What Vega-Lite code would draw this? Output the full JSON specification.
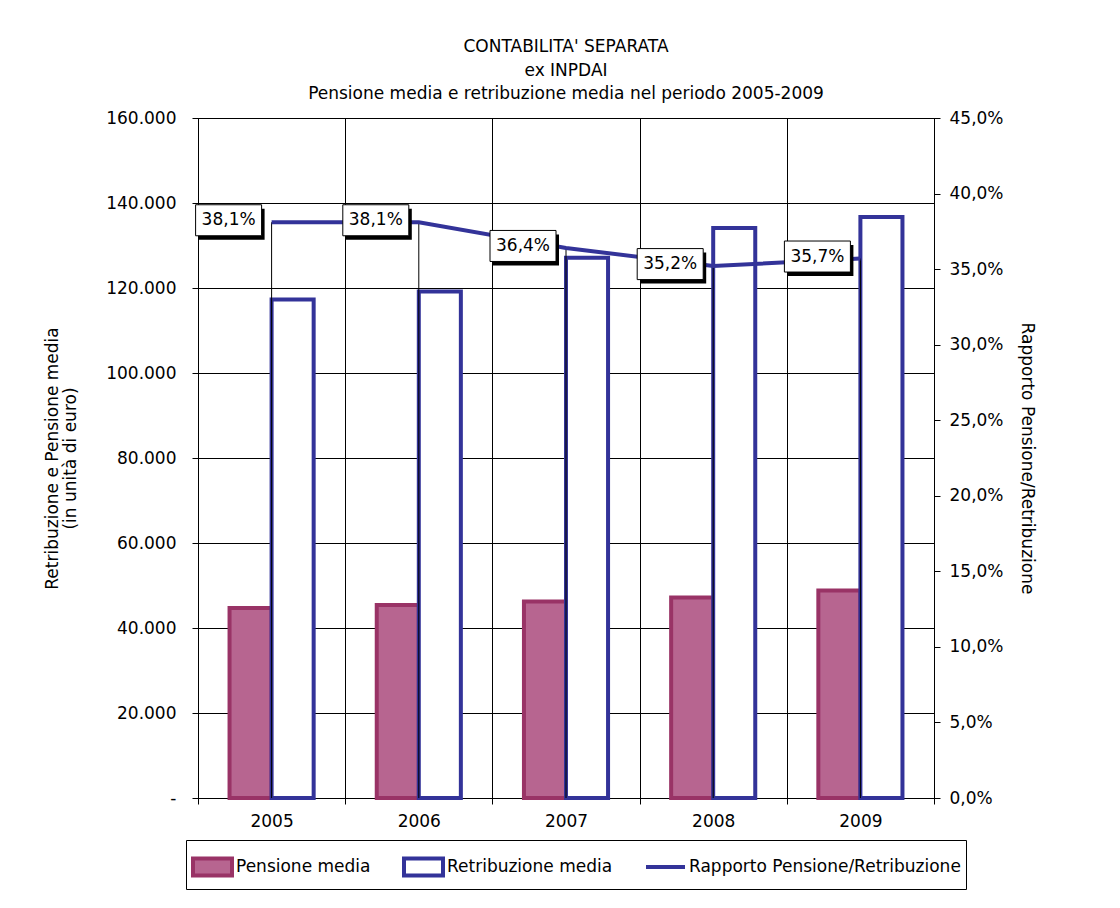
{
  "$schema": "https://vega.github.io/schema/vega-lite/v6.json",
  "width": 736,
  "height": 680,
  "autosize": {"type": "none"},
  "padding": {"left": 198, "top": 118, "right": 186, "bottom": 110},
  "background": "white",
  "config": {
    "font": "DejaVu Sans",
    "locale": {"number": {"decimal": ",", "thousands": ".", "grouping": [3], "currency": ["€", ""]}},
    "view": {"stroke": "black", "strokeWidth": 1},
    "axis": {
      "labelFontSize": 17, "labelColor": "black", "labelFont": "DejaVu Sans",
      "titleFontSize": 17, "titleFontWeight": "normal", "titleColor": "black", "titleFont": "DejaVu Sans",
      "domainColor": "black", "tickColor": "black", "gridColor": "black", "gridOpacity": 1, "tickSize": 6
    },
    "legend": {
      "labelFont": "DejaVu Sans", "labelFontSize": 17, "labelColor": "black",
      "orient": "none", "legendX": -12, "legendY": 722, "direction": "horizontal",
      "strokeColor": "black", "padding": 5, "columnPadding": 25, "labelOffset": 2, "labelLimit": 400,
      "symbolSize": 1521, "symbolStrokeWidth": 4, "symbolOpacity": 1
    }
  },
  "title": {
    "text": ["CONTABILITA' SEPARATA", "ex INPDAI", "Pensione media e retribuzione media nel periodo 2005-2009"],
    "anchor": "middle", "frame": "group", "fontSize": 17, "fontWeight": "normal", "font": "DejaVu Sans",
    "color": "black", "lineHeight": 23.5, "offset": 6
  },
  "data": {
    "values": [
      {"year": "2005", "Pensione media": 44700, "Retribuzione media": 117300, "rapporto": 0.381},
      {"year": "2006", "Pensione media": 45400, "Retribuzione media": 119200, "rapporto": 0.381},
      {"year": "2007", "Pensione media": 46250, "Retribuzione media": 127100, "rapporto": 0.364},
      {"year": "2008", "Pensione media": 47200, "Retribuzione media": 134100, "rapporto": 0.352},
      {"year": "2009", "Pensione media": 48800, "Retribuzione media": 136700, "rapporto": 0.357}
    ]
  },
  "encoding": {
    "x": {
      "field": "year", "type": "nominal",
      "scale": {"paddingInner": 0, "paddingOuter": 0},
      "axis": {"title": null, "labelAngle": 0, "tickBand": "extent", "grid": true, "labelPadding": 9, "domainColor": "black"}
    }
  },
  "layer": [
    {
      "transform": [{"fold": ["Pensione media", "Retribuzione media"], "as": ["series", "value"]}],
      "mark": {"type": "bar", "strokeWidth": 4, "opacity": 1},
      "encoding": {
        "xOffset": {"field": "series", "type": "nominal", "scale": {"domain": ["Pensione media", "Retribuzione media"], "paddingInner": 0, "paddingOuter": 0.75}},
        "y": {
          "field": "value", "type": "quantitative",
          "scale": {"domain": [0, 160000], "nice": false},
          "axis": {
            "title": ["Retribuzione e Pensione media", "(in unità di euro)"],
            "titleLineHeight": 18, "titlePadding": 26,
            "values": [0, 20000, 40000, 60000, 80000, 100000, 120000, 140000, 160000],
            "format": ",.0f",
            "labelExpr": "datum.value === 0 ? '-' : datum.label",
            "grid": true, "labelPadding": 16
          }
        },
        "fill": {
          "field": "series", "type": "nominal",
          "scale": {"domain": ["Pensione media", "Retribuzione media", "Rapporto Pensione/Retribuzione"], "range": ["#b76590", "#ffffff", "transparent"]},
          "legend": {"title": null}
        },
        "stroke": {
          "field": "series", "type": "nominal",
          "scale": {"domain": ["Pensione media", "Retribuzione media", "Rapporto Pensione/Retribuzione"], "range": ["#993366", "#333399", "#333399"]},
          "legend": {"title": null}
        }
      }
    },
    {
      "encoding": {
        "y": {
          "field": "rapporto", "type": "quantitative", "scale": {"domain": [0, 0.45], "nice": false},
          "axis": {
            "orient": "right", "title": "Rapporto Pensione/Retribuzione", "titlePadding": 14,
            "values": [0, 0.05, 0.1, 0.15, 0.2, 0.25, 0.3, 0.35, 0.4, 0.45],
            "format": ".1%", "grid": false, "labelPadding": 9
          }
        }
      },
      "layer": [
        {
          "mark": {"type": "point", "opacity": 0, "size": 0},
          "encoding": {
            "shape": {
              "datum": "Rapporto Pensione/Retribuzione", "type": "nominal",
              "scale": {"domain": ["Pensione media", "Retribuzione media", "Rapporto Pensione/Retribuzione"], "range": ["M-1,-0.44L1,-0.44L1,0.44L-1,0.44Z", "M-1,-0.44L1,-0.44L1,0.44L-1,0.44Z", "M-1,-0.44M-1,0L1,0M1,0.44"]},
              "legend": {"title": null}
            }
          }
        },
        {
          "mark": {"type": "rule", "color": "black", "strokeWidth": 1},
          "encoding": {"y2": {"datum": 0}}
        },
        {
          "mark": {"type": "line", "strokeWidth": 4, "stroke": "#333399"},
          "encoding": {}
        },
        {
          "mark": {"type": "point", "shape": "M-1,-0.47L1,-0.47L1,0.47L-1,0.47Z", "size": 4356, "filled": true, "fill": "black", "strokeWidth": 0, "opacity": 1, "xOffset": -40, "yOffset": 2}
        },
        {
          "mark": {"type": "point", "shape": "M-1,-0.47L1,-0.47L1,0.47L-1,0.47Z", "size": 4356, "filled": true, "fill": "white", "stroke": "black", "strokeWidth": 1, "opacity": 1, "xOffset": -43, "yOffset": -2}
        },
        {
          "mark": {"type": "text", "dx": -43, "dy": -2, "align": "center", "baseline": "middle", "fontSize": 17, "font": "DejaVu Sans", "color": "black"},
          "encoding": {
            "text": {"field": "rapporto", "type": "quantitative", "format": ".1%"}
          }
        }
      ]
    }
  ],
  "resolve": {"scale": {"y": "independent"}}
}
